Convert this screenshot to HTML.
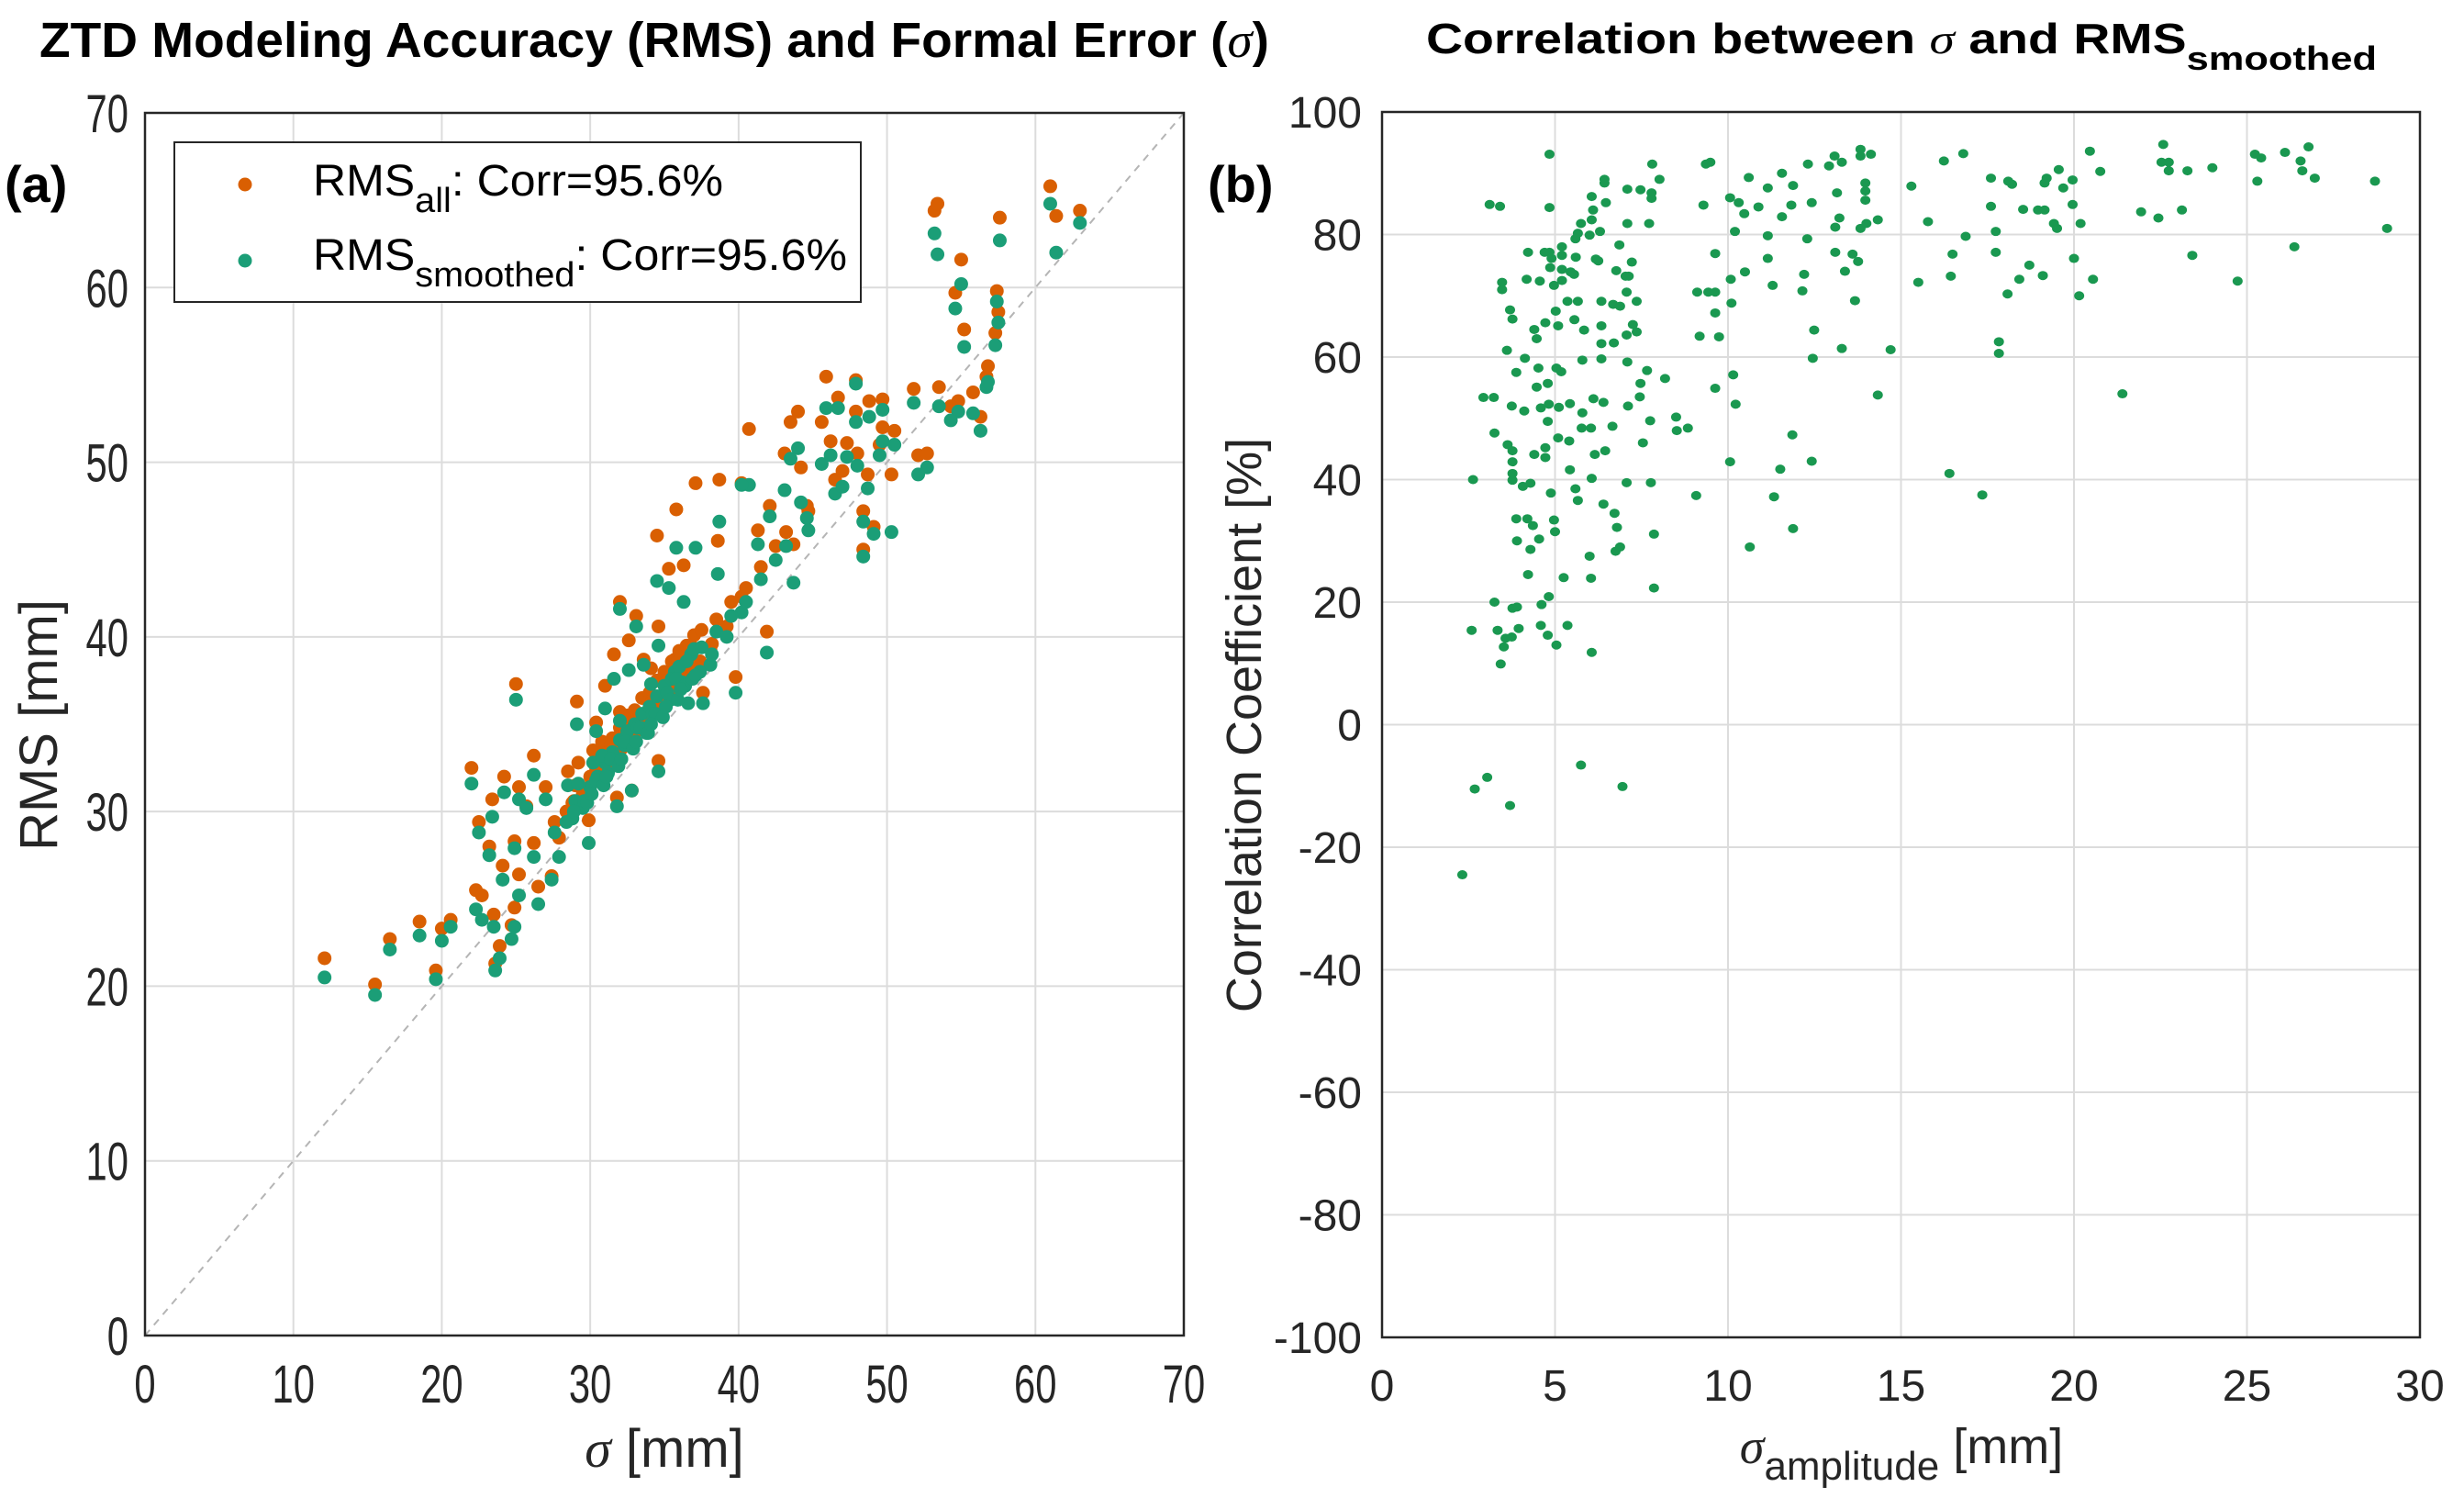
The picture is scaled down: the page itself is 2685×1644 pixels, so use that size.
<!DOCTYPE html>
<html><head><meta charset="utf-8">
<style>
html,body{margin:0;padding:0;background:#fff;}
svg{display:block;}
text{font-family:"Liberation Sans",sans-serif;}
</style></head>
<body>
<svg id="fig" xmlns="http://www.w3.org/2000/svg" width="2685" height="1644" viewBox="0 0 2685 1644">
<rect x="0" y="0" width="2685" height="1644" fill="#fff"/>
<g id="gA"></g>
<g id="gB"></g>
<text x="43" y="62" font-size="54" font-weight="bold" textLength="1340" lengthAdjust="spacingAndGlyphs">ZTD Modeling Accuracy (RMS) and Formal Error (<tspan font-family="Liberation Serif" font-style="italic" font-weight="normal">σ</tspan>)</text>
<text x="1554" y="58" font-size="46" font-weight="bold" textLength="1036" lengthAdjust="spacingAndGlyphs">Correlation between <tspan font-family="Liberation Serif" font-style="italic" font-weight="normal">σ</tspan> and RMS<tspan dy="18" font-size="36">smoothed</tspan></text>
<text x="5" y="220" font-size="56" font-weight="bold">(a)</text>
<text x="1316" y="220" font-size="56" font-weight="bold">(b)</text>
</svg>
<script>
// ---- Panel (a) data ----
const sigmaA = [61.0,53.2,53.4,57.6,61.4,63.0,55.0,54.6,57.4,55.2,57.3,57.5,56.7,56.3,53.5,51.8,54.8,54.3,52.1,52.7,45.9,47.9,46.7,48.8,49.7,44.0,43.5,40.7,45.6,47.9,49.7,50.3,48.4,48.4,49.1,48.7,37.1,38.7,40.2,35.8,34.5,43.1,44.2,46.2,47.3,44.7,41.3,42.1,43.7,38.6,35.3,36.3,40.2,32.0,33.1,34.6,41.9,32.6,31.6,25.0,29.1,31.0,36.6,37.6,39.8,38.1,34.1,35.7,36.8,33.6,30.4,32.0,12.1,15.5,16.5,18.5,19.6,20.0,20.6,22.0,22.5,23.2,23.4,24.2,22.3,22.7,23.5,23.6,23.9,24.7,24.9,24.9,25.2,25.7,26.2,26.5,27.0,27.4,27.9,24.1,25.2,26.2,28.5,29.9,34.6,32.8,31.8,29.0,29.5,30.0,30.5,31.0,31.5,32.0,32.5,33.0,33.5,34.0,34.5,35.0,35.5,36.0,36.5,37.0,29.2,30.2,31.2,32.3,33.2,34.2,35.2,36.2,28.8,30.8,33.8,35.8,37.5,38.5,39.5,40.5,41.5,42.5,43.2,44.6,46.5,47.0,48.0,49.5,50.5,55.8,56.8,28.4,29.6,30.4,31.4,32.4,33.4,34.4,35.4,36.4,37.4,29.8,30.9,31.9,32.9,33.9,34.9,35.9,36.9,27.6,28.9,30.1,31.1,32.1,33.1,34.1,35.1,36.1,37.1,38.2,39.2];
const rmsAll = [65.8,64.4,64.8,64.0,64.1,64.4,61.6,59.7,59.8,57.6,57.4,58.6,54.9,52.6,54.3,54.2,53.5,53.2,50.4,50.5,54.9,54.7,53.7,53.5,53.6,52.9,52.3,51.9,52.3,52.9,52.0,49.3,45.0,47.2,46.3,49.3,48.8,49.0,48.8,47.3,45.8,50.5,49.7,51.2,51.1,47.2,46.1,47.5,45.3,45.5,43.9,44.1,42.3,42.0,41.2,40.6,40.3,39.8,39.0,37.3,36.3,37.2,37.6,36.8,37.7,39.3,38.2,38.7,39.5,38.7,35.1,35.7,21.6,20.1,22.7,23.7,20.9,23.3,23.8,32.5,29.4,28.0,30.7,32.0,25.5,25.2,24.1,21.3,22.3,23.5,24.5,28.3,31.4,30.3,33.2,25.7,31.4,26.3,28.5,26.9,26.4,28.2,32.3,29.5,32.9,31.2,30.8,31.5,31.0,32.0,33.0,33.5,34.2,34.8,35.5,35.8,36.5,36.8,37.5,38.0,38.6,39.2,39.5,40.1,32.8,33.5,33.0,34.8,35.6,36.4,37.5,38.3,30.5,34.0,35.2,38.5,40.4,41.0,42.0,42.8,44.0,45.2,46.0,47.5,49.0,49.5,50.5,51.0,51.8,54.0,55.5,30.0,31.2,32.5,33.8,34.6,35.4,36.2,37.0,37.8,38.6,31.0,32.0,33.2,34.2,35.0,36.0,37.0,38.2,29.4,30.6,31.6,32.6,33.6,34.6,35.6,36.6,37.6,38.4,39.6,40.6];
const rmsSmooth = [64.8,63.1,61.9,62.7,62.0,63.7,60.2,58.8,59.2,56.6,56.7,58.0,54.3,51.8,53.2,53.4,52.9,52.4,49.3,49.7,53.1,54.5,53.1,52.6,53.0,50.8,50.2,48.7,49.9,52.3,51.2,46.0,44.6,46.6,45.9,48.5,45.1,46.6,48.7,45.1,43.2,48.4,47.7,50.4,50.3,46.1,45.3,46.9,43.1,43.6,42.8,42.0,41.4,41.6,40.6,39.5,39.1,38.1,37.6,36.4,35.0,35.9,36.2,36.2,36.8,38.4,37.3,38.0,39.0,38.4,34.6,35.2,20.5,19.5,22.1,22.9,20.4,22.6,23.4,31.6,28.8,27.5,29.7,31.1,24.4,23.8,23.4,20.9,21.6,22.7,23.4,27.9,30.7,30.2,32.1,24.7,30.7,26.1,27.4,26.1,25.2,27.4,31.5,28.2,32.3,31.2,30.3,30.6,30.2,31.4,32.0,32.8,33.4,34.1,34.6,35.0,35.6,36.0,36.6,37.2,37.6,38.3,38.6,39.3,31.6,32.8,32.2,33.8,34.8,35.6,36.8,37.4,29.6,33.2,34.5,37.6,39.4,40.3,41.2,42.0,43.3,44.4,45.2,46.8,48.2,48.6,49.8,50.4,51.0,52.8,54.6,29.4,30.6,31.8,33.0,34.0,34.8,35.6,36.4,37.2,38.0,30.5,31.5,32.6,33.6,34.5,35.4,36.4,37.6,28.8,30.0,31.0,32.0,33.0,34.0,35.0,36.0,37.0,37.8,39.0,40.0];
const ticksA = [0,10,20,30,40,50,60,70];
// ---- Panel (b) data ----
const sigmaAmp = [4.84,3.11,3.41,4.84,5.75,6.06,6.43,6.43,6.1,6.06,6.3,6.47,6.0,5.66,5.59,4.22,4.84,4.7,4.9,5.2,5.2,5.6,4.86,5.2,5.45,5.55,3.47,3.47,4.18,4.56,4.97,5.2,6.18,6.25,6.86,7.22,7.09,7.47,7.79,7.79,7.81,8.02,6.77,7.04,7.09,7.72,3.7,3.77,5.02,5.36,5.66,6.34,4.4,4.47,4.72,5.09,5.56,5.84,6.34,6.68,6.88,7.07,7.13,7.36,3.61,4.13,3.88,4.52,5.04,5.18,5.79,6.34,6.34,6.7,7.07,7.25,7.36,7.09,2.93,3.23,3.75,4.11,4.47,4.79,4.82,4.59,5.11,5.43,5.79,6.11,6.4,7.47,7.45,8.18,7.11,7.66,3.25,3.63,3.77,4.4,4.72,4.72,4.79,5.09,5.41,5.77,6.04,6.15,6.45,6.66,7.54,7.75,8.5,8.52,8.84,2.63,3.77,3.77,3.77,4.07,4.29,4.88,5.43,6.06,5.59,5.66,6.4,6.72,6.79,7.07,7.77,9.08,3.88,4.2,4.36,4.97,5.0,4.54,3.9,4.29,4.22,5.25,6.0,6.04,6.75,6.88,7.86,7.86,3.25,3.77,3.9,4.82,4.61,2.59,3.34,3.95,3.57,3.75,3.43,3.52,4.59,5.36,4.79,5.04,6.06,2.68,3.04,3.7,5.75,6.95,2.32,9.49,9.36,9.29,9.63,9.11,9.43,9.63,9.63,9.18,9.74,9.63,10.06,10.31,10.6,10.2,10.47,10.88,11.15,11.56,11.83,11.88,11.56,11.15,11.15,11.29,12.2,12.15,12.29,12.31,12.42,12.49,12.45,10.08,10.49,10.1,10.15,10.22,10.06,10.63,11.33,11.51,11.86,11.88,12.42,13.08,13.29,13.15,12.92,13.22,13.1,13.1,13.38,13.6,13.76,13.67,13.29,13.83,13.83,14.13,13.97,13.97,13.97,13.83,14.0,14.33,14.33,14.7,15.3,15.5,15.78,16.24,16.8,16.87,16.49,16.44,16.4,17.35,17.6,17.6,17.74,17.74,17.83,17.83,18.1,18.21,18.08,18.42,18.53,18.71,18.96,19.15,19.15,19.21,19.1,19.42,19.51,19.56,19.69,19.96,19.96,20.0,20.15,20.19,20.46,20.55,20.76,21.4,21.94,22.44,22.58,22.53,22.74,22.74,23.12,23.28,23.42,24.0,24.73,25.23,25.41,25.3,26.1,26.37,26.55,26.6,26.78,26.96,28.7,29.05];
const corrCoef = [93.1,84.9,84.6,84.4,81.8,86.2,88.4,89.0,84.0,82.4,80.5,85.2,79.9,80.2,79.3,77.1,77.1,77.1,76.1,78.0,76.6,76.3,74.6,74.3,73.9,73.5,72.2,71.0,72.7,72.4,71.7,72.5,76.0,75.7,78.3,75.5,87.4,87.3,86.8,85.9,91.5,89.0,74.1,73.2,81.8,81.8,67.7,66.2,67.5,69.1,69.1,69.1,64.5,63.0,65.6,65.1,66.1,64.4,65.1,68.6,68.3,70.6,73.2,69.1,61.1,59.8,57.5,58.2,58.2,57.6,59.5,59.7,62.2,62.3,63.6,65.3,64.1,59.2,53.4,53.4,52.0,51.2,55.1,55.7,52.3,51.7,51.8,52.4,50.9,53.2,52.6,55.7,53.5,56.5,52.0,57.8,47.6,45.7,44.7,44.1,45.2,43.6,49.5,46.8,46.3,48.4,48.4,44.1,44.7,48.7,46.0,49.6,50.2,48.0,48.4,40.0,42.9,41.0,39.9,38.9,39.4,37.8,41.6,40.2,38.5,36.6,36.0,34.5,32.2,39.5,39.5,37.4,33.6,33.6,32.5,33.4,31.5,30.3,30.0,28.6,24.5,24.0,27.5,23.9,28.3,29.0,31.1,22.3,20.0,19.0,19.2,20.9,19.6,15.4,15.4,15.7,14.1,14.3,9.9,12.7,16.2,16.2,14.6,13.0,11.8,-10.5,-8.6,-13.2,-6.6,-10.1,-24.5,91.8,91.5,84.8,76.9,70.6,70.6,70.6,67.2,63.4,63.3,54.9,86.0,85.2,89.3,80.5,83.4,84.5,87.6,90.0,84.8,88.0,82.9,79.8,76.1,71.7,73.5,70.8,79.3,91.5,85.2,64.4,59.8,72.7,73.9,68.8,57.1,52.3,42.9,29.0,37.2,41.7,47.3,32.0,43.0,92.8,91.8,86.8,91.2,82.7,81.2,77.1,74.0,76.8,75.6,69.2,61.4,93.9,92.8,93.1,88.4,85.6,87.1,81.0,81.8,82.4,53.8,61.2,87.9,72.2,82.1,92.0,93.2,79.7,76.8,73.2,41.0,37.5,89.2,84.6,80.5,77.1,62.5,60.6,88.7,88.2,70.3,72.7,84.1,75.0,84.0,84.0,88.4,89.2,73.3,81.8,81.0,90.6,87.6,88.9,84.9,76.1,70.0,81.8,93.6,72.7,90.3,54.0,83.7,82.7,94.7,91.8,91.8,90.4,84.0,90.4,76.6,90.9,72.4,93.1,92.5,88.7,93.4,78.0,92.0,90.4,94.3,89.2,88.7,81.0];
const ticksBx = [0,5,10,15,20,25,30];
const ticksBy = [-100,-80,-60,-40,-20,0,20,40,60,80,100];

const NS = "http://www.w3.org/2000/svg";
function mk(tag, attrs, parent){ const e=document.createElementNS(NS,tag); for(const k in attrs) e.setAttribute(k,attrs[k]); parent.appendChild(e); return e; }

// ---- Panel A ----
const gA = document.getElementById('gA');
const AX0=158, AX1=1290, AY0=1455, AY1=123;
const ax = v => AX0 + (v-0)/(70-0)*(AX1-AX0);
const ay = v => AY0 - (v-0)/(70-0)*(AY0-AY1);
ticksA.forEach(t=>{
  if(t>0 && t<70){
    const gx=mk('line',{x1:ax(t),x2:ax(t),y1:AY1,y2:AY0,stroke:'#dcdcdc','stroke-width':2},gA);
    
    
    const gy=mk('line',{x1:AX0,x2:AX1,y1:ay(t),y2:ay(t),stroke:'#dcdcdc','stroke-width':2},gA);
    
    
  }
  const xt=mk('text',{x:ax(t),y:1528,'font-size':58,'text-anchor':'middle',fill:'#262626',transform:`translate(${ax(t)},0) scale(0.72,1) translate(${-ax(t)},0)`},gA);
  xt.textContent=t;
  
  
  const yt=mk('text',{x:140,y:ay(t)+21,'font-size':58,'text-anchor':'end',fill:'#262626',transform:`translate(140,0) scale(0.72,1) translate(-140,0)`},gA);
  yt.textContent=t;
  
  
});
const diag=mk('line',{x1:ax(0),y1:ay(0),x2:ax(70),y2:ay(70),stroke:'#b5b5b5','stroke-width':2,'stroke-dasharray':'8,7'},gA);


sigmaA.forEach((s,i)=>{
  const c=mk('circle',{cx:ax(s),cy:ay(rmsAll[i]),r:7.5,fill:'#d95f02'},gA);
  
  
});
sigmaA.forEach((s,i)=>{
  const c=mk('circle',{cx:ax(s),cy:ay(rmsSmooth[i]),r:7.5,fill:'#1b9e77'},gA);
  
  
});
const frA=mk('rect',{x:AX0,y:AY1,width:AX1-AX0,height:AY0-AY1,fill:'none',stroke:'#262626','stroke-width':2.5},gA);


// legend
const lg=mk('g',{},gA);


mk('rect',{x:190,y:155,width:748,height:174,fill:'#fff',stroke:'#262626','stroke-width':2},lg);
const m1=mk('circle',{cx:267,cy:201,r:7.5,fill:'#d95f02'},lg);


const m2=mk('circle',{cx:267,cy:284,r:7.5,fill:'#1b9e77'},lg);


const l1=mk('text',{x:341,y:213,'font-size':48,textLength:447,lengthAdjust:'spacingAndGlyphs'},lg);
l1.innerHTML='RMS<tspan dy="18" font-size="38">all</tspan><tspan dy="-18">: Corr=95.6%</tspan>';


const l2=mk('text',{x:341,y:294,'font-size':48,textLength:582,lengthAdjust:'spacingAndGlyphs'},lg);
l2.innerHTML='RMS<tspan dy="18" font-size="38">smoothed</tspan><tspan dy="-18">: Corr=95.6%</tspan>';


const xlA=mk('text',{x:724,y:1598,'font-size':58,'text-anchor':'middle',fill:'#262626'},gA);
xlA.innerHTML='<tspan font-family="Liberation Serif" font-style="italic">σ</tspan> [mm]';


const ylA=mk('text',{x:0,y:0,'font-size':58,'text-anchor':'middle',fill:'#262626',transform:'translate(62,790) rotate(-90)'},gA);
ylA.textContent='RMS [mm]';



// ---- Panel B ----
const gB=document.getElementById('gB');
const BX0=1506, BX1=2637, BY0=1457, BY1=122;
const bx = v => BX0 + (v-0)/(30-0)*(BX1-BX0);
const by = v => BY0 - (v+100)/(200)*(BY0-BY1);
ticksBx.forEach(t=>{
  if(t>0&&t<30){
    const g=mk('line',{x1:bx(t),x2:bx(t),y1:BY1,y2:BY0,stroke:'#dcdcdc','stroke-width':2},gB);
    
    
  }
  const tx=mk('text',{x:bx(t),y:1526,'font-size':48,'text-anchor':'middle',fill:'#262626'},gB);
  tx.textContent=t;
  
  
});
ticksBy.forEach(t=>{
  if(t>-100&&t<100){
    const g=mk('line',{x1:BX0,x2:BX1,y1:by(t),y2:by(t),stroke:'#dcdcdc','stroke-width':2},gB);
    
    
  }
  const ty=mk('text',{x:1484,y:by(t)+17,'font-size':48,'text-anchor':'end',fill:'#262626'},gB);
  ty.textContent=t;
  
  
});
sigmaAmp.forEach((s,i)=>{
  const c=mk('ellipse',{cx:bx(s),cy:by(corrCoef[i]),rx:5.5,ry:5,fill:'#1a9850'},gB);
  
  
});
const frB=mk('rect',{x:BX0,y:BY1,width:BX1-BX0,height:BY0-BY1,fill:'none',stroke:'#262626','stroke-width':2.5},gB);


const xlB=mk('text',{x:2072,y:1594,'font-size':54,'text-anchor':'middle',fill:'#262626'},gB);
xlB.innerHTML='<tspan font-family="Liberation Serif" font-style="italic">σ</tspan><tspan dy="18" font-size="44">amplitude</tspan><tspan dy="-18"> [mm]</tspan>';


const ylB=mk('text',{x:0,y:0,'font-size':54,'text-anchor':'middle',fill:'#262626',transform:'translate(1374,790) rotate(-90)'},gB);
ylB.textContent='Correlation Coefficient [%]';


</script>
</body></html>
